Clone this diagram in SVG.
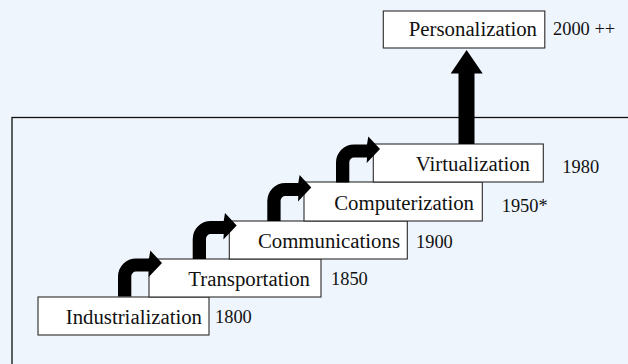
<svg xmlns="http://www.w3.org/2000/svg" xmlns:xlink="http://www.w3.org/1999/xlink" width="628" height="364" viewBox="0 0 628 364">
<style>
.box{fill:#ffffff;stroke:#2a2a2a;stroke-width:1.1}
text{font-family:'Liberation Serif','Times New Roman','DejaVu Serif',serif;fill:#111}
.lbl{font-size:20.8px;text-anchor:end}
.yr{font-size:18.4px}
.arr{fill:#000}
</style>
<defs>
<path id="curveArrow" d="M0,0 V-20 A18,18 0 0 1 18,-38 H31 L32.3,-46 L44,-33.4 L30.7,-19.4 L31,-25 H18 A4.7,4.7 0 0 0 13.3,-20.3 V0 Z"/>
</defs>
<rect x="0" y="0" width="628" height="364" fill="#eef5fc"/>
<rect x="12" y="117.5" width="700" height="400" fill="none" stroke="#111" stroke-width="1.3"/>

<g id="industrialization">
<rect class="box" x="38" y="297" width="171" height="38"/>
<text class="lbl" x="202" y="324" font-family="Liberation Serif, Times New Roman, serif">Industrialization</text>
<text class="yr" x="215" y="322.7" font-family="Liberation Serif, Times New Roman, serif">1800</text>
</g>
<g id="transportation">
<rect class="box" x="149" y="259" width="172" height="38"/>
<text class="lbl" x="310" y="286" font-family="Liberation Serif, Times New Roman, serif">Transportation</text>
<text class="yr" x="331" y="285" font-family="Liberation Serif, Times New Roman, serif">1850</text>
</g>
<g id="communications">
<rect class="box" x="229.3" y="221" width="178" height="38"/>
<text class="lbl" x="400" y="247.5" font-family="Liberation Serif, Times New Roman, serif">Communications</text>
<text class="yr" x="416" y="248" font-family="Liberation Serif, Times New Roman, serif">1900</text>
</g>
<g id="computerization">
<rect class="box" x="304" y="182" width="178.3" height="39"/>
<text class="lbl" x="474" y="210" font-family="Liberation Serif, Times New Roman, serif">Computerization</text>
<text class="yr" x="501.7" y="211.7" font-family="Liberation Serif, Times New Roman, serif">1950*</text>
</g>
<g id="virtualization">
<rect class="box" x="373.3" y="144" width="170" height="38"/>
<text class="lbl" x="530" y="171" font-family="Liberation Serif, Times New Roman, serif">Virtualization</text>
<text class="yr" x="562.3" y="172.7" font-family="Liberation Serif, Times New Roman, serif">1980</text>
</g>
<g id="personalization">
<rect class="box" x="383.3" y="11" width="161.5" height="37"/>
<text class="lbl" x="537" y="35.5" font-family="Liberation Serif, Times New Roman, serif">Personalization</text>
<text class="yr" x="553" y="35" font-family="Liberation Serif, Times New Roman, serif">2000 ++</text>
</g>

<g id="connectors" class="arr">
<use xlink:href="#curveArrow" x="118" y="296.5"/>
<use xlink:href="#curveArrow" x="192.7" y="259"/>
<use xlink:href="#curveArrow" x="267.3" y="221"/>
<use xlink:href="#curveArrow" x="336" y="182.5"/>
<path d="M458.5,144 V73.5 H450.7 L466.6,50 L482.7,73.5 H474.5 V144 Z"/>
</g>
</svg>
